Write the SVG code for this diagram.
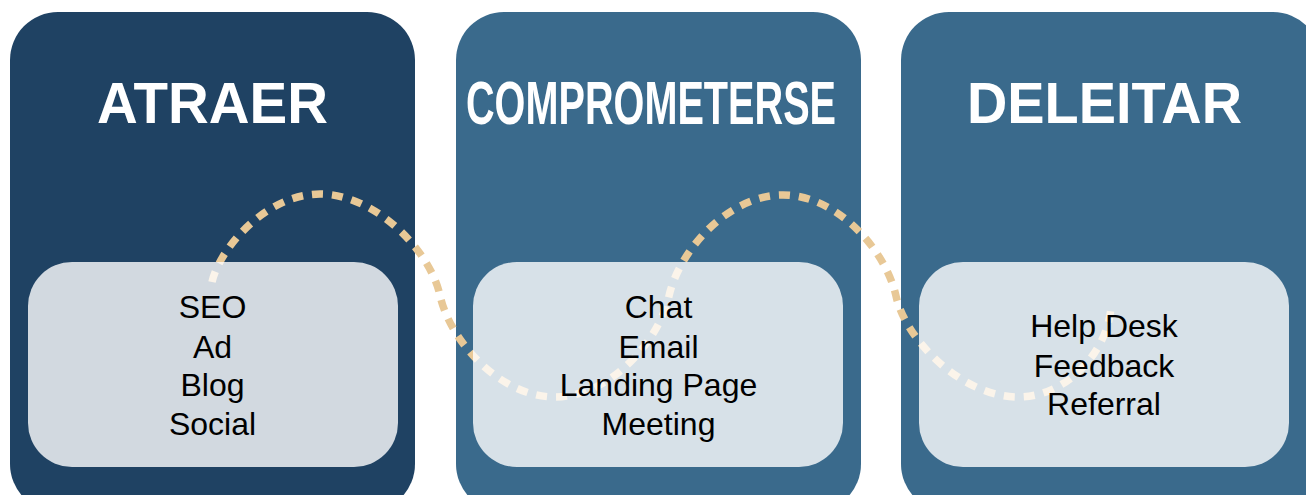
<svg xmlns="http://www.w3.org/2000/svg" width="1306" height="495" viewBox="0 0 1306 495">
  <style>
    .stage { stroke: none; }
    .stage-dark { fill: #1f4263; }
    .stage-mid { fill: #3a6a8c; }
    .panel { fill: #ffffff; fill-opacity: 0.8; }
    .title { font-family: "Liberation Sans", Arial, sans-serif; font-weight: bold; fill: #ffffff; text-anchor: middle; }
    .item { font-family: "Liberation Sans", Arial, sans-serif; font-size: 32px; fill: #000000; text-anchor: middle; }
    .wave { fill: none; stroke: #e8c896; stroke-width: 7.5; stroke-dasharray: 11 9; }
  </style>

  <!-- stage backgrounds -->
  <g id="stage-backgrounds">
    <rect class="stage stage-dark" x="10" y="12" width="405" height="500" rx="48" ry="48"/>
    <rect class="stage stage-mid" x="456" y="12" width="405" height="500" rx="48" ry="48"/>
    <rect class="stage stage-mid" x="901" y="12" width="420" height="500" rx="48" ry="48"/>
  </g>

  <!-- dotted journey wave running behind the panels -->
  <g id="connectors">
    <path class="wave" d="M212,282
      C219,250 265,194 320,194
      C375,194 430,250 440,295.5
      C450,341 500,397 555,397
      C610,397 659,341 669,296
      C679,251 728,195 783,195
      C838,195 886,251 896,296
      C906,341 963,397 1018,397
      C1068,397 1108,350 1111,307"/>
  </g>

  <!-- ATRAER -->
  <g id="node-atraer">
    <rect class="panel" x="28" y="262" width="370" height="205" rx="44" ry="44"/>
    <text class="title" x="212.5" y="122.7" font-size="57" textLength="231" lengthAdjust="spacingAndGlyphs">ATRAER</text>
    <text class="item" x="212.5" y="318.3">SEO</text>
    <text class="item" x="212.5" y="357.5">Ad</text>
    <text class="item" x="212.5" y="396">Blog</text>
    <text class="item" x="212.5" y="434.5">Social</text>
  </g>

  <!-- COMPROMETERSE: condensed horizontally to fit the card -->
  <g id="node-comprometerse">
    <rect class="panel" x="473" y="262" width="370" height="205" rx="44" ry="44"/>
    <text class="title" transform="translate(651,124.3) scale(0.65,1)" x="0" y="0" font-size="61">COMPROMETERSE</text>
    <text class="item" x="658.5" y="318.3">Chat</text>
    <text class="item" x="658.5" y="357.5">Email</text>
    <text class="item" x="658.5" y="396">Landing Page</text>
    <text class="item" x="658.5" y="434.5">Meeting</text>
  </g>

  <!-- DELEITAR -->
  <g id="node-deleitar">
    <rect class="panel" x="919" y="262" width="370" height="205" rx="44" ry="44"/>
    <text class="title" x="1104.5" y="122.7" font-size="57" textLength="275" lengthAdjust="spacingAndGlyphs">DELEITAR</text>
    <text class="item" x="1104" y="337">Help Desk</text>
    <text class="item" x="1104" y="376.5">Feedback</text>
    <text class="item" x="1104" y="414.5">Referral</text>
  </g>
</svg>
